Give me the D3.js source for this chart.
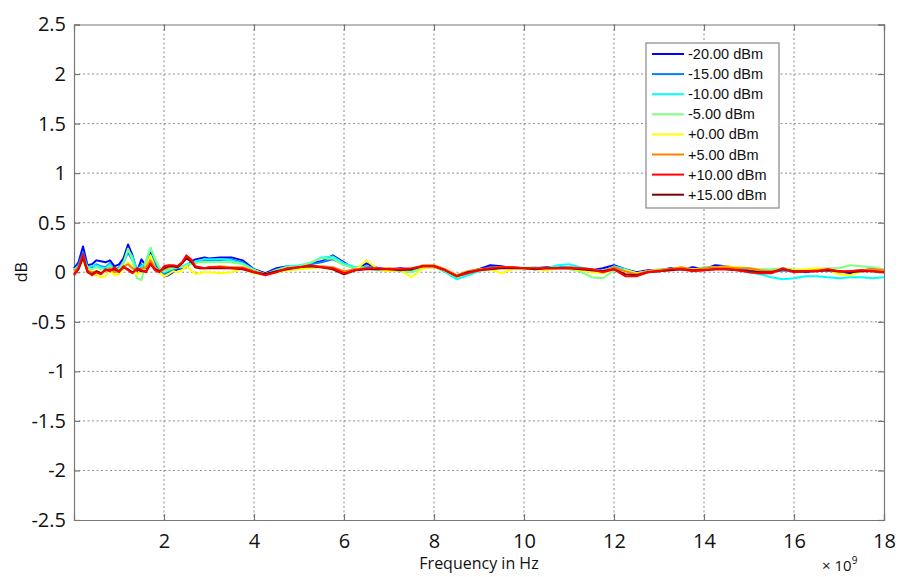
<!DOCTYPE html>
<html>
<head>
<meta charset="utf-8">
<script src="https://cdn.jsdelivr.net/npm/d3@7"></script>
<style>
  body { margin: 0; background: #fff; }
</style>
</head>
<body>
<div class="chart"></div>
<script>
// frequency grid in GHz (axis shows Hz x 10^9)
const freqGHz = [0,0.1,0.2,0.3,0.4,0.5,0.6,0.7,0.8,0.9,1.0,1.1,1.2,1.3,1.4,1.5,1.6,1.7,1.8,1.9,
  2.0,2.1,2.2,2.3,2.4,2.5,2.6,2.7,2.8,2.9,3.0,3.25,3.5,3.75,4.0,4.25,4.5,4.75,5.0,5.25,5.5,5.75,
  6.0,6.25,6.5,6.75,7.0,7.25,7.5,7.75,8.0,8.25,8.5,8.75,9.0,9.25,9.5,9.75,10.0,10.25,10.5,10.75,
  11.0,11.25,11.5,11.75,12.0,12.25,12.5,12.75,13.0,13.25,13.5,13.75,14.0,14.25,14.5,14.75,15.0,
  15.25,15.5,15.75,16.0,16.25,16.5,16.75,17.0,17.25,17.5,17.75,18.0];

const seriesNames = ["-20.00 dBm", "-15.00 dBm", "-10.00 dBm", "-5.00 dBm",
  "+0.00 dBm", "+5.00 dBm", "+10.00 dBm", "+15.00 dBm"];
const seriesColors = ["#0000ff", "#0080ff", "#00ffff", "#80ff80",
  "#ffff00", "#ff8000", "#ff0000", "#800000"];

const dbmM20 = [0.04,0.10,0.26,0.07,0.08,0.12,0.11,0.10,0.12,0.06,0.08,0.14,0.28,0.17,0.01,0.13,0.06,0.22,0.10,0.03,
  -0.04,-0.03,0.00,0.03,0.04,0.05,0.11,0.13,0.14,0.15,0.14,
  0.15,0.15,0.12,0.03,-0.01,0.04,0.06,0.06,0.09,0.11,0.17,0.10,0.03,0.09,0.04,0.03,0.04,0.03,0.05,0.06,
  0.01,-0.05,0.00,0.03,0.07,0.06,0.04,0.03,0.04,0.05,0.05,0.04,0.03,0.02,0.04,0.07,0.03,0.00,0.02,0.02,
  0.04,0.03,0.05,0.03,0.07,0.06,0.04,0.02,0.02,0.01,0.02,0.02,0.00,0.02,0.02,0.01,-0.01,0.02,0.03,0.02];
const dbmM15 = [0.02,0.08,0.20,0.06,0.05,0.08,0.06,0.05,0.09,0.02,0.05,0.10,0.20,0.12,0.03,0.08,0.04,0.16,0.08,0.02,
  -0.02,0.00,0.02,0.04,0.05,0.07,0.09,0.10,0.11,0.12,0.12,
  0.12,0.13,0.10,0.02,-0.02,0.03,0.05,0.06,0.08,0.10,0.13,0.08,0.04,0.06,0.03,0.03,0.03,0.02,0.05,0.05,
  0.02,-0.05,-0.01,0.02,0.05,0.05,0.04,0.04,0.03,0.04,0.05,0.05,0.04,0.02,0.01,0.05,0.02,-0.01,0.01,0.02,
  0.03,0.04,0.03,0.04,0.05,0.05,0.03,0.02,0.01,0.01,0.02,0.01,0.01,0.02,0.02,0.00,0.01,0.02,0.02,0.01];
const dbmM10 = [0.03,0.06,0.16,0.05,0.06,0.07,0.05,0.04,0.08,0.01,0.04,0.09,0.22,0.16,0.02,0.06,0.10,0.24,0.12,0.04,
  0.00,0.02,0.04,0.05,0.06,0.08,0.09,0.11,0.12,0.13,0.13,
  0.13,0.12,0.09,0.03,-0.03,0.02,0.06,0.07,0.09,0.15,0.16,0.09,0.05,0.05,0.02,0.02,0.01,0.00,0.05,0.06,
  0.00,-0.07,-0.03,0.01,0.04,0.05,0.05,0.04,0.05,0.04,0.07,0.08,0.05,0.03,0.01,0.06,0.03,-0.01,0.00,0.01,
  0.02,0.03,0.02,0.05,0.05,0.03,0.02,0.00,-0.02,-0.05,-0.07,-0.06,-0.04,-0.04,-0.05,-0.06,-0.05,-0.05,-0.06,-0.05];
const dbmM5 = [0.02,0.05,0.14,0.04,0.03,0.05,0.03,0.02,0.06,0.00,0.03,0.10,0.24,0.12,-0.06,-0.08,0.12,0.25,0.14,0.05,
  0.01,0.03,0.04,0.05,0.05,0.07,0.08,0.09,0.10,0.10,0.10,
  0.10,0.10,0.08,0.02,-0.02,0.02,0.05,0.06,0.10,0.14,0.14,0.07,0.04,0.04,0.02,0.03,0.02,0.00,0.05,0.06,
  0.01,-0.05,-0.01,0.02,0.04,0.05,0.04,0.03,0.04,0.04,0.05,0.03,0.01,-0.05,-0.06,0.02,0.02,-0.01,0.01,0.03,
  0.03,0.04,0.03,0.04,0.04,0.05,0.05,0.04,0.03,0.03,0.04,0.03,0.02,0.03,0.04,0.04,0.07,0.06,0.05,0.03];
const dbmP0 = [0.00,0.04,0.12,0.01,-0.02,-0.03,-0.05,-0.04,0.02,-0.03,-0.02,0.04,0.10,0.05,-0.03,0.02,0.06,0.17,0.05,0.00,
  -0.04,-0.02,0.01,0.00,0.02,0.06,0.02,-0.02,-0.01,0.00,0.00,
  -0.01,0.00,0.04,-0.01,-0.02,0.00,0.02,0.03,0.04,0.05,0.03,-0.01,0.02,0.12,0.03,0.01,0.02,-0.05,0.04,0.05,
  0.02,-0.03,0.00,0.02,0.03,-0.01,0.03,0.04,0.03,0.02,0.04,0.04,0.02,0.00,-0.01,0.03,0.02,-0.01,0.01,0.02,
  0.03,0.05,0.03,0.04,0.05,0.06,0.05,0.04,0.02,0.01,0.03,0.02,0.03,0.04,0.03,-0.02,-0.03,0.01,0.02,0.02];
const dbmP5 = [0.01,0.05,0.15,0.02,0.00,0.01,-0.01,0.02,0.04,0.00,0.01,0.06,0.08,0.04,0.02,0.04,0.05,0.12,0.05,0.01,
  0.03,0.05,0.06,0.05,0.09,0.15,0.11,0.05,0.04,0.04,0.05,
  0.06,0.05,0.05,0.01,-0.02,0.01,0.04,0.05,0.06,0.06,0.05,0.01,0.03,0.04,0.03,0.04,0.03,0.03,0.07,0.07,
  0.03,-0.03,0.01,0.03,0.04,0.05,0.05,0.04,0.04,0.04,0.04,0.05,0.04,0.03,0.01,0.05,0.01,-0.02,0.01,0.02,
  0.03,0.05,0.02,0.04,0.05,0.05,0.04,0.04,0.02,0.01,0.03,0.01,0.01,0.02,0.03,0.00,0.01,0.02,0.03,0.02];
const dbmP10 = [-0.03,0.04,0.18,0.01,-0.03,0.00,-0.02,0.03,0.01,0.05,0.00,0.06,0.02,-0.01,0.04,0.02,0.00,0.09,0.02,0.00,
  0.06,0.07,0.07,0.06,0.10,0.17,0.13,0.06,0.05,0.04,0.05,
  0.05,0.04,0.04,0.00,-0.03,0.00,0.04,0.05,0.07,0.05,0.04,-0.01,0.02,0.04,0.04,0.03,0.03,0.04,0.06,0.06,
  0.02,-0.04,-0.01,0.02,0.04,0.05,0.05,0.04,0.04,0.04,0.04,0.04,0.04,0.03,0.00,0.03,-0.04,-0.04,0.00,0.01,
  0.03,0.03,0.01,0.02,0.03,0.03,0.02,0.00,-0.01,-0.01,0.04,0.00,0.01,0.01,0.03,0.01,0.01,0.02,0.01,0.00];
const dbmP15 = [-0.02,0.03,0.15,0.00,-0.02,0.01,-0.01,0.02,0.02,0.03,0.01,0.05,0.03,0.00,0.03,0.01,0.01,0.08,0.03,0.01,
  0.04,0.06,0.06,0.05,0.09,0.14,0.11,0.05,0.04,0.04,0.04,
  0.04,0.04,0.03,0.00,-0.02,0.01,0.03,0.05,0.06,0.05,0.03,-0.02,0.02,0.03,0.03,0.03,0.02,0.03,0.06,0.06,
  0.02,-0.04,0.00,0.02,0.03,0.04,0.04,0.04,0.03,0.04,0.04,0.04,0.03,0.02,0.01,0.03,-0.02,-0.03,0.00,0.01,
  0.02,0.03,0.02,0.02,0.03,0.03,0.02,0.01,0.00,0.00,0.03,0.01,0.01,0.01,0.02,0.01,0.00,0.01,0.01,0.00];

const seriesValues = [dbmM20, dbmM15, dbmM10, dbmM5, dbmP0, dbmP5, dbmP10, dbmP15];
// draw order: dark red under red so red stays on top
const drawOrder = [0, 1, 2, 3, 4, 5, 7, 6];

const xTicks = [2, 4, 6, 8, 10, 12, 14, 16, 18];
const yTicks = [-2.5, -2, -1.5, -1, -0.5, 0, 0.5, 1, 1.5, 2, 2.5];

const margin = { top: 24.5, right: 33, bottom: 57, left: 74 },
  width = 917 - margin.left - margin.right,
  height = 577 - margin.top - margin.bottom;

const svg = d3.select(".chart")
  .append("svg")
  .attr("width", 917)
  .attr("height", 577)
  .append("g")
  .attr("transform", `translate(${margin.left},${margin.top})`);

const x = d3.scaleLinear().domain([0, 18]).range([0, width]);
const y = d3.scaleLinear().domain([-2.5, 2.5]).range([height, 0]);

const gridColor = "#8c8c8c";

// dotted grid
svg.append("g")
  .selectAll("line")
  .data(xTicks.filter(d => d < 18))
  .join("line")
  .attr("x1", d => x(d)).attr("x2", d => x(d))
  .attr("y1", 0).attr("y2", height)
  .attr("stroke", gridColor)
  .attr("stroke-dasharray", "2,2.5");
svg.append("g")
  .selectAll("line")
  .data(yTicks.filter(d => d > -2.5 && d < 2.5))
  .join("line")
  .attr("x1", 0).attr("x2", width)
  .attr("y1", d => y(d)).attr("y2", d => y(d))
  .attr("stroke", gridColor)
  .attr("stroke-dasharray", "2,2.5");

// axes with inward ticks on all four sides, plain hyphen minus like the original
const axisFont = "'Open Sans', sans-serif";
const xAxis = svg.append("g")
  .attr("transform", `translate(0,${height})`)
  .call(d3.axisBottom(x).tickValues(xTicks).tickSize(-6).tickPadding(14));
const yAxis = svg.append("g")
  .call(d3.axisLeft(y).tickValues(yTicks).tickSize(-6).tickPadding(8)
    .tickFormat(d => String(d)));
svg.append("g")
  .call(d3.axisTop(x).tickValues(xTicks).tickSize(-6).tickFormat(""));
svg.append("g")
  .attr("transform", `translate(${width},0)`)
  .call(d3.axisRight(y).tickValues(yTicks).tickSize(-6).tickFormat(""));

svg.selectAll(".domain, .tick line").attr("stroke", "#777").attr("stroke-width", 1.2);
[xAxis, yAxis].forEach(a => a.selectAll("text")
  .attr("font-family", axisFont)
  .attr("font-size", 20)
  .attr("fill", "#111"));

// series lines
const line = d3.line()
  .x((d, i) => x(freqGHz[i]))
  .y(d => y(d));

svg.append("g")
  .selectAll("path")
  .data(drawOrder)
  .join("path")
  .attr("d", k => line(seriesValues[k]))
  .attr("fill", "none")
  .attr("stroke", k => seriesColors[k])
  .attr("stroke-width", 2)
  .attr("stroke-linejoin", "round");

// axis labels
svg.append("text")
  .text("Frequency in Hz")
  .attr("x", 479 - margin.left)
  .attr("y", 569 - margin.top)
  .attr("text-anchor", "middle")
  .attr("font-family", axisFont)
  .attr("font-size", 16)
  .attr("fill", "#111");

const mult = svg.append("text")
  .attr("x", 822 - margin.left)
  .attr("y", 571 - margin.top)
  .attr("font-family", axisFont)
  .attr("font-size", 15)
  .attr("fill", "#111");
mult.append("tspan").text("\u00d7 10");
mult.append("tspan").text("9").attr("font-size", 10).attr("dy", -7);

svg.append("text")
  .text("dB")
  .attr("transform", `translate(${27 - margin.left},${y(0)}) rotate(-90)`)
  .attr("text-anchor", "middle")
  .attr("font-family", axisFont)
  .attr("font-size", 16)
  .attr("fill", "#111");

// legend
const legend = svg.append("g")
  .attr("transform", `translate(${646 - margin.left},${43 - margin.top})`);
legend.append("rect")
  .attr("width", 133).attr("height", 165)
  .attr("fill", "#fff")
  .attr("stroke", "#888")
  .attr("stroke-width", 1.2);
const rows = legend.selectAll("g.row")
  .data(seriesNames)
  .join("g")
  .attr("class", "row")
  .attr("transform", (d, i) => `translate(0,${11 + i * 20.1})`);
rows.append("line")
  .attr("x1", 6).attr("x2", 38)
  .attr("stroke", (d, i) => seriesColors[i])
  .attr("stroke-width", 2);
rows.append("text")
  .text(d => d)
  .attr("x", 42)
  .attr("y", 5)
  .attr("font-family", "'Liberation Sans', Arial, sans-serif")
  .attr("font-size", 14.5)
  .attr("fill", "#111");
</script>
</body>
</html>
